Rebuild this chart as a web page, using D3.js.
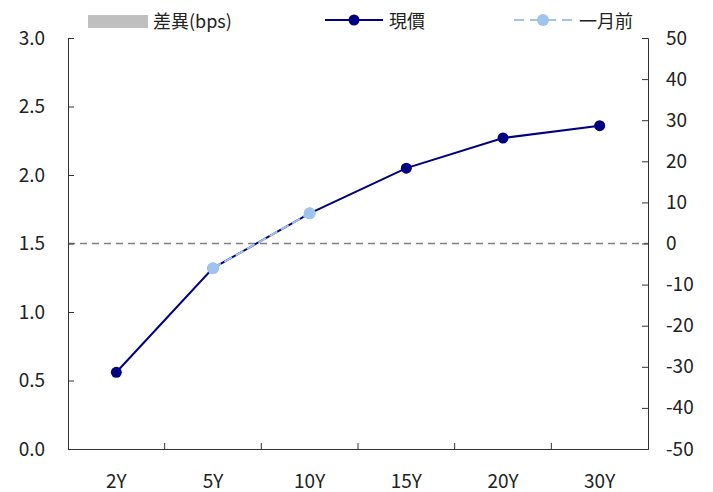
<!DOCTYPE html>
<html>
<head>
<meta charset="utf-8">
<script src="https://cdn.jsdelivr.net/npm/d3@7"></script>
<style>
  html, body { margin: 0; padding: 0; background: #fff; }
  svg text { font-family: "Noto Sans CJK TC", "Noto Sans", sans-serif; fill: #222; }
</style>
</head>
<body>
<svg id="chart" width="713" height="492"></svg>
<script>
// Tenors and yields (%)
const tenors = ["2Y", "5Y", "10Y", "15Y", "20Y", "30Y"];
const currentYield = [0.56, 1.32, 1.72, 2.05, 2.27, 2.36];
const monthAgoYield = [null, 1.32, 1.72, null, null, null];
// Change vs. one month ago, in basis points
const diffBps = [null, 0, 0, null, null, null];

const leftTicks = [0, 0.5, 1.0, 1.5, 2.0, 2.5, 3.0];
const rightTicks = [-50, -40, -30, -20, -10, 0, 10, 20, 30, 40, 50];

const legendLabels = ["差異(bps)", "現價", "一月前"];

const colors = { diff: "#BFBFBF", current: "#000080", monthAgo: "#9FC5EE", zero: "#808080", axis: "#333" };

const margin = { left: 68, right: 65, top: 38, bottom: 43 };
const W = 713, H = 492;
const svg = d3.select("#chart");

const x = d3.scaleBand().domain(tenors).range([margin.left, W - margin.right]);
const yL = d3.scaleLinear().domain([0, 3]).range([H - margin.bottom, margin.top]);
const yR = d3.scaleLinear().domain([-50, 50]).range([H - margin.bottom, margin.top]);

// Difference bars (right axis)
svg.append("g").selectAll("rect")
  .data(tenors.map((t, i) => ({ t, v: diffBps[i] })).filter(d => d.v != null))
  .join("rect")
  .attr("x", d => x(d.t) + x.bandwidth() * 0.25)
  .attr("width", x.bandwidth() * 0.5)
  .attr("y", d => Math.min(yR(d.v), yR(0)))
  .attr("height", d => Math.abs(yR(d.v) - yR(0)))
  .attr("fill", colors.diff);

// Zero reference line of the right axis
svg.append("line")
  .attr("x1", margin.left).attr("x2", W - margin.right)
  .attr("y1", yR(0)).attr("y2", yR(0))
  .attr("stroke", colors.zero).attr("stroke-width", 1.5)
  .attr("stroke-dasharray", "7,5");

// Axes
const axisFont = "19px";
const gL = svg.append("g").attr("transform", `translate(${margin.left},0)`)
  .call(d3.axisLeft(yL).tickValues(leftTicks).tickFormat(d3.format(".1f")).tickSizeInner(-6).tickSizeOuter(-6).tickPadding(23));
const gR = svg.append("g").attr("transform", `translate(${W - margin.right},0)`)
  .call(d3.axisRight(yR).tickValues(rightTicks).tickFormat(d => d).tickSizeInner(-6).tickSizeOuter(-6).tickPadding(18));
const gB = svg.append("g").attr("transform", `translate(0,${H - margin.bottom})`)
  .call(d3.axisBottom(x).tickSize(0).tickPadding(26));
// Category boundary ticks pointing into the plot
gB.selectAll(".boundary")
  .data(tenors.slice(1))
  .join("line")
  .attr("class", "boundary")
  .attr("x1", d => x(d)).attr("x2", d => x(d))
  .attr("y1", 0).attr("y2", -6)
  .attr("stroke", colors.axis);

[gL, gR, gB].forEach(g => {
  g.selectAll("path.domain").attr("stroke", colors.axis);
  g.selectAll(".tick line").attr("stroke", colors.axis);
  g.selectAll("text").style("font-size", axisFont).attr("fill", "#222")
    .style("font-family", "\"Noto Sans CJK TC\", sans-serif");
});

// Yield lines
const line = d3.line()
  .defined(d => d.v != null)
  .x(d => x(d.t) + x.bandwidth() / 2)
  .y(d => yL(d.v));

const cur = tenors.map((t, i) => ({ t, v: currentYield[i] }));
const ago = tenors.map((t, i) => ({ t, v: monthAgoYield[i] }));

svg.append("path").datum(cur).attr("d", line)
  .attr("fill", "none").attr("stroke", colors.current).attr("stroke-width", 2);
svg.append("g").selectAll("circle").data(cur).join("circle")
  .attr("cx", d => x(d.t) + x.bandwidth() / 2).attr("cy", d => yL(d.v))
  .attr("r", 5.5).attr("fill", colors.current);

svg.append("path").datum(ago).attr("d", line)
  .attr("fill", "none").attr("stroke", colors.monthAgo).attr("stroke-width", 2)
  .attr("stroke-dasharray", "9,4");
svg.append("g").selectAll("circle").data(ago.filter(d => d.v != null)).join("circle")
  .attr("cx", d => x(d.t) + x.bandwidth() / 2).attr("cy", d => yL(d.v))
  .attr("r", 6).attr("fill", colors.monthAgo);

// Legend
const lg = svg.append("g").style("font-size", "18px");
lg.append("rect").attr("x", 88).attr("y", 15).attr("width", 60).attr("height", 13).attr("fill", colors.diff);
lg.append("text").attr("x", 153).attr("y", 28).text(legendLabels[0]);

lg.append("line").attr("x1", 325).attr("x2", 383).attr("y1", 20).attr("y2", 20)
  .attr("stroke", colors.current).attr("stroke-width", 2);
lg.append("circle").attr("cx", 354).attr("cy", 20).attr("r", 5.5).attr("fill", colors.current);
lg.append("text").attr("x", 389).attr("y", 28).text(legendLabels[1]);

lg.append("line").attr("x1", 514).attr("x2", 572).attr("y1", 20).attr("y2", 20)
  .attr("stroke", colors.monthAgo).attr("stroke-width", 2).attr("stroke-dasharray", "10,6");
lg.append("circle").attr("cx", 543).attr("cy", 20).attr("r", 6).attr("fill", colors.monthAgo);
lg.append("text").attr("x", 579).attr("y", 28).text(legendLabels[2]);
</script>
</body>
</html>
